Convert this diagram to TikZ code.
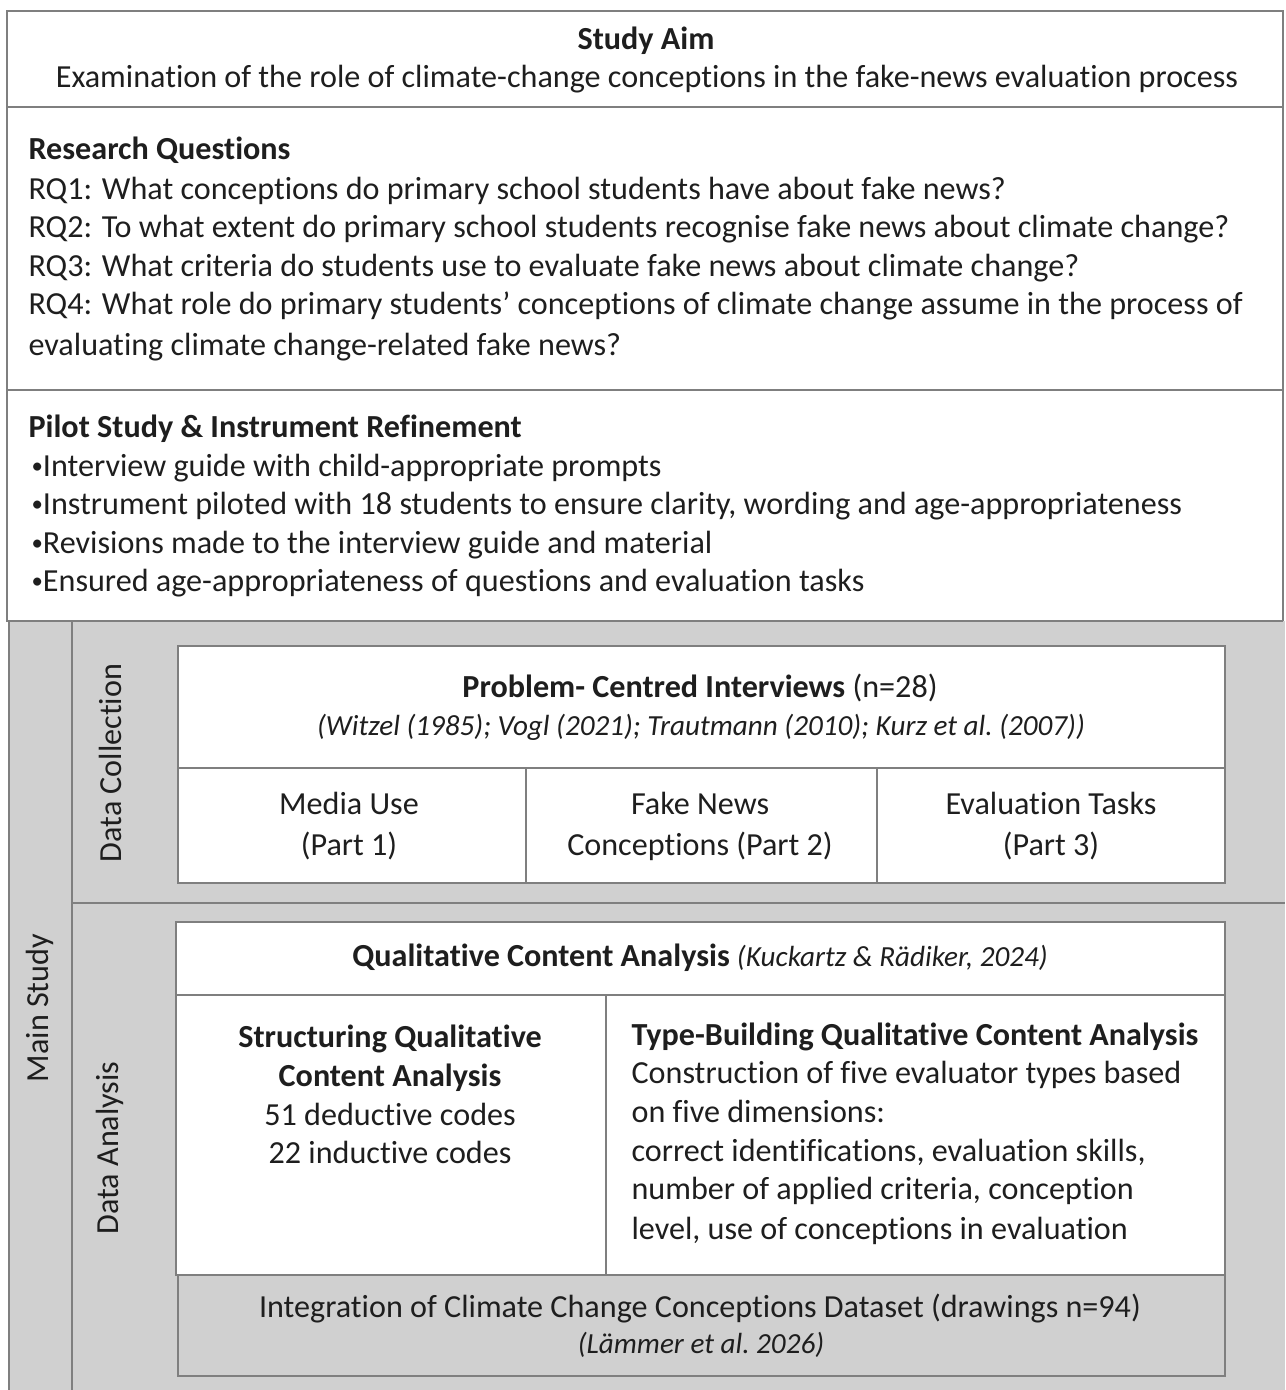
\documentclass[tikz,border=0pt]{standalone}
\usepackage{fontspec}
\setmainfont{Carlito}[Ligatures=CommonOff]
\definecolor{framegray}{HTML}{7F7F7F}
\definecolor{bandgray}{HTML}{D0D0D0}
\definecolor{inkgray}{HTML}{1E1E1E}
\newcommand{\pbullet}{{\fontsize{8}{9}\selectfont\raisebox{0.2ex}{\textbullet}}}
\newcommand{\refsize}{\fontsize{10.2}{12}\selectfont\itshape}
\tikzset{
    frame/.style={draw=framegray, line width=0.8pt},
    cell/.style={frame, fill=white},
    txt/.style={inner sep=0pt, anchor=base, text=inkgray, font=\fontsize{11.25}{13.5}\selectfont},
    ltxt/.style={txt, anchor=base west},
    side/.style={inner sep=0pt, rotate=90, text=inkgray, font=\fontsize{11.25}{13.5}\selectfont},
}
\begin{document}
\begin{tikzpicture}[x=0.35pt, y=-0.35pt]
        % \draw[help lines, step=50] (0,0) grid (1285,1390);
        \useasboundingbox (0,0) rectangle (1285,1390);

        % upper boxes
        \draw[frame] (7,11) rectangle (1283,107);
        \draw[frame] (7,107) rectangle (1283,390);
        \draw[frame] (7,390) rectangle (1283,621);

        \node[txt] (aimhead) at (646,50) {\textbf{Study Aim}};
        \node[txt] (aimtext) at (647,88) {Examination of the role of climate-change conceptions in the fake-news evaluation process};

        \node[ltxt] (rqhead) at (28,160) {\textbf{Research Questions}};
        \node[ltxt] (rq1) at (28,199) {RQ1: What conceptions do primary school students have about fake news?};
        \node[ltxt] (rq2) at (28,237) {RQ2: To what extent do primary school students recognise fake news about climate change?};
        \node[ltxt] (rq3) at (28,276) {RQ3: What criteria do students use to evaluate fake news about climate change?};
        \node[ltxt] (rq4) at (28,314) {RQ4: What role do primary students' conceptions of climate change assume in the process of};
        \node[ltxt] (rq4b) at (28,355) {evaluating climate change-related fake news?};

        \node[ltxt] (pilothead) at (28,437) {\textbf{Pilot Study \& Instrument Refinement}};
        \node[ltxt] (pilot1) at (31,476) {\pbullet Interview guide with child-appropriate prompts};
        \node[ltxt] (pilot2) at (31,514) {\pbullet Instrument piloted with 18 students to ensure clarity, wording and age-appropriateness};
        \node[ltxt] (pilot3) at (31,553) {\pbullet Revisions made to the interview guide and material};
        \node[ltxt] (pilot4) at (31,591) {\pbullet Ensured age-appropriateness of questions and evaluation tasks};

        % main study band
        \fill[bandgray] (9,621) rectangle (1285,1390);
        \draw[frame] (9,621) -- (9,1390);
        \draw[frame] (72,621) -- (72,1390);
        \draw[frame] (72,903) -- (1285,903);
        \draw[frame] (9,621) -- (1283,621);

        \node[side] (mainstudy) at (40,1008) {Main Study};
        \node[side] (collect) at (110,763) {Data Collection};
        \node[side] (analyse) at (110,1148) {Data Analysis};

        % data collection
        \draw[cell] (178,646) rectangle (1225,883);
        \draw[frame] (178,768) -- (1225,768);
        \draw[frame] (526,768) -- (526,883);
        \draw[frame] (877,768) -- (877,883);

        \node[txt] (pcihead) at (700,697) {\textbf{Problem- Centred Interviews} (n=28)};
        \node[txt] (pciref) at (701,735) {\refsize (Witzel (1985); Vogl (2021); Trautmann (2010); Kurz et al.\ (2007))};
        \node[txt] (part1a) at (349,814) {Media Use};
        \node[txt] (part1b) at (349,855) {(Part 1)};
        \node[txt] (part2a) at (700,814) {Fake News};
        \node[txt] (part2b) at (700,855) {Conceptions (Part 2)};
        \node[txt] (part3a) at (1051,814) {Evaluation Tasks};
        \node[txt] (part3b) at (1051,855) {(Part 3)};

        % data analysis
        \draw[cell] (176,922) rectangle (1225,1275);
        \draw[frame] (176,995) -- (1225,995);
        \draw[frame] (606,995) -- (606,1275);
        \draw[frame] (178,1275) rectangle (1225,1376);

        \node[txt] (qcahead) at (700,966) {\textbf{Qualitative Content Analysis} {\refsize (Kuckartz \& Rädiker, 2024)}};
        \node[txt] (sqca1) at (390,1047) {\textbf{Structuring Qualitative}};
        \node[txt] (sqca2) at (390,1086) {\textbf{Content Analysis}};
        \node[txt] (sqca3) at (390,1125) {51 deductive codes};
        \node[txt] (sqca4) at (390,1163) {22 inductive codes};

        \node[ltxt] (tqca1) at (631,1045) {\textbf{Type-Building Qualitative Content Analysis}};
        \node[ltxt] (tqca2) at (631,1083) {Construction of five evaluator types based};
        \node[ltxt] (tqca3) at (631,1122) {on five dimensions:};
        \node[ltxt] (tqca4) at (631,1161) {correct identifications, evaluation skills,};
        \node[ltxt] (tqca5) at (631,1199) {number of applied criteria, conception};
        \node[ltxt] (tqca6) at (631,1239) {level, use of conceptions in evaluation};

        \node[txt] (integ1) at (700,1317) {Integration of Climate Change Conceptions Dataset (drawings n=94)};
        \node[txt] (integ2) at (701,1353) {\refsize (Lämmer et al.\ 2026)};
\end{tikzpicture}
\end{document}
